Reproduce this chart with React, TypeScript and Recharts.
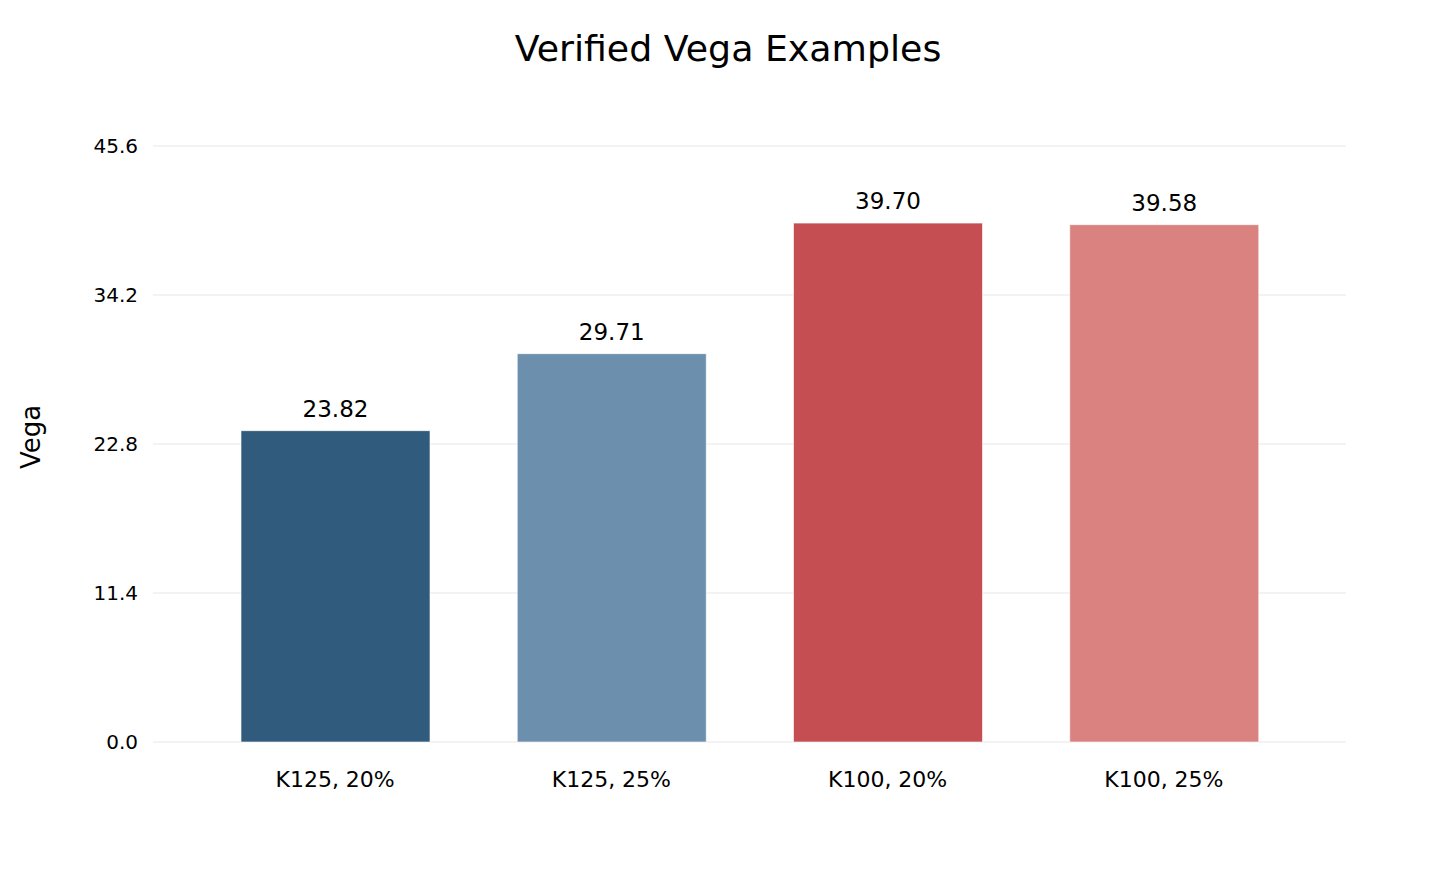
import { BarChart, Bar, XAxis, YAxis, CartesianGrid, Cell, LabelList } from 'recharts';

const categories = ['K125, 20%', 'K125, 25%', 'K100, 20%', 'K100, 25%'];
const vegaValues = [23.82, 29.71, 39.7, 39.58];
const barColors = ['#315b7c', '#6b8fad', '#c44e52', '#d98280'];
const yTicks = [0, 11.4, 22.8, 34.2, 45.6];

const data = categories.map((name, i) => ({ name, vega: vegaValues[i] }));

const font = '"DejaVu Sans", sans-serif';

export default function App() {
  return (
    <div style={{ position: 'absolute', left: 0, top: 0, width: 1456, height: 874, background: '#fff', fontFamily: font }}>
      <BarChart
        width={1456}
        height={874}
        data={data}
        margin={{ top: 146, right: 110, left: 93, bottom: 72 }}
      >
        <CartesianGrid vertical={false} stroke="#e8e8e8" strokeWidth={1.2} />
        <XAxis
          dataKey="name"
          height={60}
          axisLine={false}
          tickLine={false}
          tickMargin={23}
          padding={{ left: 44, right: 44 }}
          tick={{ fontSize: 22, fill: '#000', fontFamily: font }}
        />
        <YAxis
          width={60}
          domain={[0, 45.6]}
          ticks={yTicks}
          interval={0}
          axisLine={false}
          tickLine={false}
          tickMargin={9}
          tickFormatter={(v: number) => v.toFixed(1)}
          tick={{ fontSize: 20, fill: '#000', fontFamily: font }}
        />
        <Bar dataKey="vega" barSize={189} isAnimationActive={false} stroke="#ffffff" strokeOpacity={0.6} strokeWidth={1}>
          {data.map((d, i) => (
            <Cell key={d.name} fill={barColors[i]} />
          ))}
          <LabelList
            dataKey="vega"
            position="top"
            offset={14}
            formatter={(v: number) => v.toFixed(2)}
            style={{ fontSize: 23, fill: '#000', fontFamily: font }}
          />
        </Bar>
      </BarChart>
      <svg width={1456} height={874} style={{ position: 'absolute', left: 0, top: 0, pointerEvents: 'none' }}>
        <text x={728} y={61} textAnchor="middle" fontSize={36.3} fontFamily={font} fill="#000">
          Verified Vega Examples
        </text>
        <text transform="translate(40,437) rotate(-90)" textAnchor="middle" fontSize={26} fontFamily={font} fill="#000">
          Vega
        </text>
      </svg>
    </div>
  );
}
